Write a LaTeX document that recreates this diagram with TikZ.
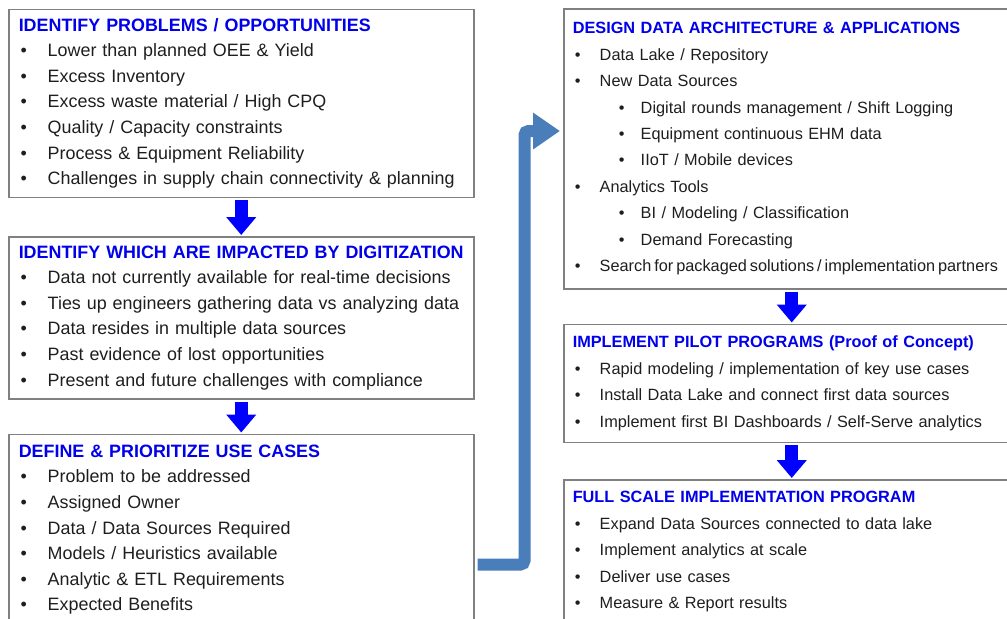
\documentclass[tikz,border=0pt]{standalone}
\usepackage{fontspec}
\setmainfont{Liberation Sans}
\usetikzlibrary{arrows.meta, positioning, calc}
\definecolor{headblue}{RGB}{0,0,235}
\definecolor{flowblue}{RGB}{0,0,255}
\definecolor{elbowblue}{RGB}{74,126,187}
\definecolor{framegray}{RGB}{128,128,128}
\definecolor{bodytext}{RGB}{30,30,30}
% heading and bullet helpers
\newcommand{\hd}[1]{\textcolor{headblue}{\bfseries #1}}
\newcommand{\lbl}{\makebox[14.5pt][l]{\hspace{1pt}\textbullet}}
\newcommand{\rbl}{\makebox[13.5pt][l]{\hspace{1pt}\textbullet}}
\newcommand{\sbl}{\hspace*{22pt}\makebox[12pt][l]{\hspace{1pt}\textbullet}}
% tighter word spacing for the one long line
\newcommand{\tight}[1]{\mbox{\spaceskip=0.65\fontdimen2\font\relax #1}}
\tikzset{
  lbox/.style={rectangle, draw=framegray, line width=0.75pt, anchor=north west,
    minimum width=232.5pt, text width=222.5pt, inner xsep=5pt, inner ysep=0pt,
    align=left, text=bodytext, font=\fontsize{8.95}{12.8}\selectfont},
  rbox/.style={rectangle, draw=framegray, line width=0.75pt, anchor=north west,
    minimum width=228pt, text width=219pt, inner xsep=4.5pt, inner ysep=0pt,
    align=left, text=bodytext, font=\fontsize{8.15}{13.2}\selectfont},
  flowarrow/.style={-{Triangle[length=9pt, width=14.5pt]}, line width=6.5pt,
    color=flowblue, shorten <=1pt, shorten >=0.5pt},
  bigarrow/.style={-{Triangle[length=13.5pt, width=17.5pt]}, line width=6pt,
    color=elbowblue, rounded corners=2pt},
}

\begin{document}
\begin{tikzpicture}[x=0.5pt, y=-0.5pt]
\useasboundingbox (0,0) rectangle (1007,618);

% left column
\node[lbox, minimum height=94pt] (b1) at (8,8.5) {%
\hd{IDENTIFY PROBLEMS / OPPORTUNITIES}\\
\lbl Lower than planned OEE \& Yield\\
\lbl Excess Inventory\\
\lbl Excess waste material / High CPQ\\
\lbl Quality / Capacity constraints\\
\lbl Process \& Equipment Reliability\\
\lbl Challenges in supply chain connectivity \& planning};

\node[lbox, minimum height=81pt, below=19pt of b1] (b2) {%
\hd{IDENTIFY WHICH ARE IMPACTED BY DIGITIZATION}\\
\lbl Data not currently available for real-time decisions\\
\lbl Ties up engineers gathering data vs analyzing data\\
\lbl Data resides in multiple data sources\\
\lbl Past evidence of lost opportunities\\
\lbl Present and future challenges with compliance};

\node[lbox, minimum height=95.5pt, below=17pt of b2] (b3) {%
\hd{DEFINE \& PRIORITIZE USE CASES}\\
\lbl Problem to be addressed\\
\lbl Assigned Owner\\
\lbl Data / Data Sources Required\\
\lbl Models / Heuristics available\\
\lbl Analytic \& ETL Requirements\\
\lbl Expected Benefits};

% right column
\node[rbox, minimum height=140pt] (b4) at (563,8) {%
\hd{DESIGN DATA ARCHITECTURE \& APPLICATIONS}\\
\rbl Data Lake / Repository\\
\rbl New Data Sources\\
\sbl Digital rounds management / Shift Logging\\
\sbl Equipment continuous EHM data\\
\sbl IIoT / Mobile devices\\
\rbl Analytics Tools\\
\sbl BI / Modeling / Classification\\
\sbl Demand Forecasting\\
\rbl \tight{Search for packaged solutions / implementation partners}};

\node[rbox, minimum height=59pt, below=17pt of b4] (b5) {%
\hd{IMPLEMENT PILOT PROGRAMS (Proof of Concept)}\\
\rbl Rapid modeling / implementation of key use cases\\
\rbl Install Data Lake and connect first data sources\\
\rbl \mbox{Implement first BI Dashboards / Self-Serve analytics}};

\node[rbox, minimum height=72pt, below=18pt of b5] (b6) {%
\hd{FULL SCALE IMPLEMENTATION PROGRAM}\\
\rbl Expand Data Sources connected to data lake\\
\rbl Implement analytics at scale\\
\rbl Deliver use cases\\
\rbl Measure \& Report results};

% flow between steps
\draw[flowarrow] (b1.south) -- (b2.north);
\draw[flowarrow] (b2.south) -- (b3.north);
\draw[flowarrow] (b4.south) -- (b5.north);
\draw[flowarrow] (b5.south) -- (b6.north);

% hand-over from left column to right column
\draw[bigarrow] ($(b3.north east)+(3,131)$) -- ++(47,0)
  |- ($(b4.north west)+(-3,123)$);
\end{tikzpicture}
\end{document}
